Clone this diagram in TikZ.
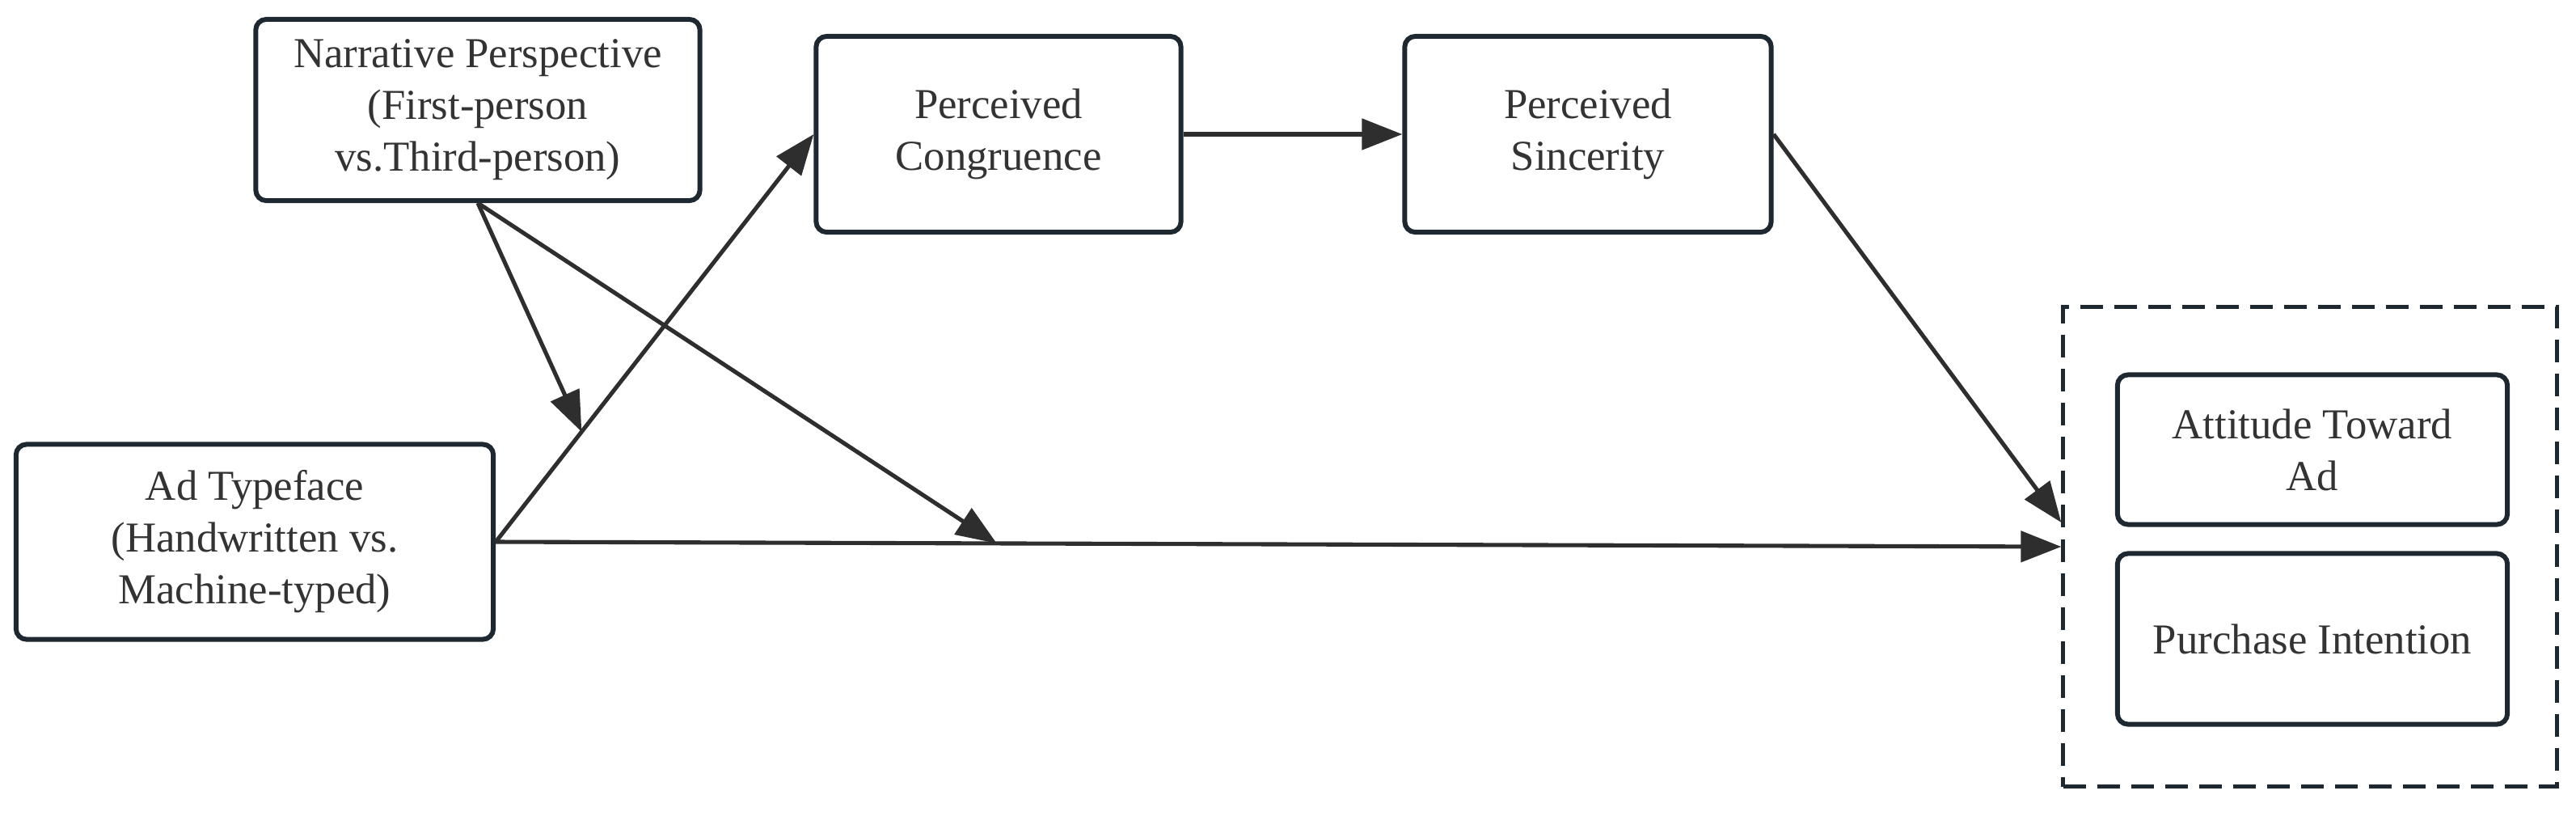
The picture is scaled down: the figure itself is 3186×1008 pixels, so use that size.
\documentclass[tikz,border=0pt]{standalone}
\usepackage{fontspec}
\setmainfont{Liberation Serif}
\usetikzlibrary{arrows.meta,calc}
\definecolor{boxline}{HTML}{1E2830}
\definecolor{arrowc}{HTML}{2E2E2E}
\definecolor{txt}{HTML}{333333}
\begin{document}
\begin{tikzpicture}[x=0.01cm,y=-0.01cm,
  varbox/.style={draw=boxline, line width=1.7pt, rounded corners=0.13cm, fill=white,
    align=center, text=txt, font=\fontsize{15}{18.2}\selectfont, inner sep=0pt},
  conn/.style={draw=arrowc, line width=1.45pt, -{Triangle[length=0.5cm,width=0.38cm]}}
]
\useasboundingbox (0,0) rectangle (3186,1008);
\fill[white] (0,0) rectangle (3186,1008);
\node[varbox, minimum width=5.49cm, minimum height=2.24cm] (narr) at (591,136)
  {\raisebox{-4pt}{}Narrative Perspective\\(First-person\\vs.Third-person)};
\node[varbox, minimum width=4.51cm, minimum height=2.42cm] (cong) at (1235,166)
  {Perceived\\Congruence};
\node[varbox, minimum width=4.53cm, minimum height=2.42cm] (sinc) at (1964,166)
  {Perceived\\Sincerity};
\node[varbox, minimum width=5.90cm, minimum height=2.41cm] (ad) at (315,670)
  {Ad Typeface\\(Handwritten vs.\\Machine-typed)};
\node[draw=boxline, line width=1.4pt, dash pattern=on 0.28cm off 0.14cm,
  minimum width=6.10cm, minimum height=5.93cm, inner sep=0pt] (outer) at (2857,676) {};
\node[varbox, minimum width=4.82cm, minimum height=1.85cm] (att) at (2860,556)
  {Attitude Toward\\Ad};
\node[varbox, minimum width=4.82cm, minimum height=2.11cm] (pur) at (2860,790)
  {Purchase Intention};
\coordinate (j1) at ($(ad.east)!0.27!(cong.west)$);
\coordinate (j2) at ($(ad.east)!0.32!(outer.west)$);
\coordinate (o1) at ($(outer.west)+(0,-30)$);
\draw[conn] (ad.east) -- (cong.west);
\draw[conn] (ad.east) -- (outer.west);
\draw[conn] (narr.south) -- (j1);
\draw[conn] (narr.south) -- (j2);
\draw[conn] (cong.east) -- (sinc.west);
\draw[conn] (sinc.east) -- (o1);
\end{tikzpicture}
\end{document}
